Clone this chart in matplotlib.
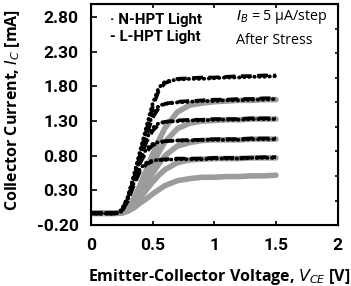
import numpy as np
import matplotlib.pyplot as plt

plt.rcParams['font.family'] = ['Roboto', 'DejaVu Sans']

# collector-emitter voltage [V]
vce = [0, 0.1, 0.2, 0.25, 0.3, 0.35, 0.4, 0.45, 0.5, 0.55, 0.6, 0.7, 0.8, 0.9, 1.0, 1.1, 1.2, 1.3, 1.4, 1.5]

# N-HPT light, after stress (mA)
n_hpt = [
    [-0.03, -0.03, -0.03, 0.0, 0.18, 0.42, 0.62, 0.70, 0.73, 0.74, 0.74, 0.75, 0.75, 0.75, 0.76, 0.76, 0.76, 0.77, 0.77, 0.77],
    [-0.03, -0.03, -0.03, 0.0, 0.19, 0.48, 0.75, 0.90, 0.97, 1.00, 1.01, 1.02, 1.02, 1.03, 1.03, 1.03, 1.03, 1.04, 1.04, 1.04],
    [-0.03, -0.03, -0.03, 0.01, 0.20, 0.50, 0.82, 1.05, 1.20, 1.27, 1.29, 1.30, 1.31, 1.31, 1.32, 1.32, 1.32, 1.33, 1.33, 1.33],
    [-0.03, -0.03, -0.03, 0.01, 0.20, 0.52, 0.85, 1.15, 1.40, 1.52, 1.55, 1.57, 1.58, 1.59, 1.59, 1.60, 1.60, 1.61, 1.61, 1.62],
    [-0.03, -0.03, -0.03, 0.02, 0.21, 0.53, 0.88, 1.22, 1.55, 1.78, 1.87, 1.90, 1.91, 1.91, 1.92, 1.93, 1.93, 1.94, 1.94, 1.95],
]
# L-HPT light, after stress (mA)
l_hpt = [
    [-0.03, -0.03, -0.03, 0.0, 0.15, 0.38, 0.58, 0.68, 0.72, 0.74, 0.75, 0.76, 0.76, 0.76, 0.77, 0.77, 0.77, 0.77, 0.78, 0.78],
    [-0.03, -0.03, -0.03, 0.0, 0.16, 0.43, 0.70, 0.86, 0.95, 0.99, 1.01, 1.02, 1.03, 1.03, 1.04, 1.04, 1.04, 1.05, 1.05, 1.05],
    [-0.03, -0.03, -0.03, 0.0, 0.17, 0.45, 0.76, 1.00, 1.16, 1.25, 1.29, 1.31, 1.32, 1.32, 1.33, 1.33, 1.33, 1.34, 1.34, 1.34],
    [-0.03, -0.03, -0.03, 0.0, 0.17, 0.47, 0.80, 1.10, 1.35, 1.49, 1.55, 1.58, 1.59, 1.60, 1.61, 1.61, 1.62, 1.62, 1.63, 1.63],
    [-0.03, -0.03, -0.03, 0.01, 0.18, 0.48, 0.83, 1.17, 1.50, 1.74, 1.85, 1.91, 1.92, 1.93, 1.93, 1.94, 1.95, 1.95, 1.96, 1.96],
]
# grey reference curves (mA)
grey = [
    [-0.03, -0.03, -0.03, -0.03, 0.0, 0.05, 0.12, 0.18, 0.25, 0.31, 0.37, 0.44, 0.47, 0.49, 0.49, 0.50, 0.50, 0.51, 0.51, 0.52],
    [-0.03, -0.03, -0.03, -0.02, 0.02, 0.10, 0.20, 0.31, 0.42, 0.52, 0.60, 0.70, 0.74, 0.75, 0.76, 0.76, 0.76, 0.77, 0.77, 0.77],
    [-0.03, -0.03, -0.03, -0.02, 0.03, 0.13, 0.26, 0.40, 0.55, 0.68, 0.80, 0.94, 0.99, 1.02, 1.03, 1.03, 1.03, 1.04, 1.04, 1.04],
    [-0.03, -0.03, -0.03, -0.02, 0.04, 0.16, 0.32, 0.50, 0.68, 0.85, 1.00, 1.19, 1.27, 1.30, 1.31, 1.32, 1.32, 1.33, 1.33, 1.33],
    [-0.03, -0.03, -0.03, -0.02, 0.05, 0.19, 0.38, 0.60, 0.82, 1.02, 1.20, 1.43, 1.53, 1.56, 1.58, 1.59, 1.60, 1.60, 1.61, 1.61],
]

yticks = [-0.20, 0.30, 0.80, 1.30, 1.80, 2.30, 2.80]
xticks = [0, 0.5, 1, 1.5, 2]

fig = plt.figure(figsize=(3.51, 2.86), dpi=100)
ax = fig.add_axes([0.259, 0.213, 0.703, 0.773])

for g in grey:
    ax.plot(vce, g, color='#9c9c9c', lw=4, solid_capstyle='round', zorder=1)
for c in l_hpt:
    ax.plot(vce, c, color='black', lw=2.6, ls=(0, (3, 1.5)), zorder=2)
for c in n_hpt:
    ax.plot(vce, c, color='black', lw=2.8, ls=(0, (0.1, 1.2)), dash_capstyle='round', zorder=3)

ax.set_xlim(0, 2)
ax.set_ylim(-0.2, 2.99)
ax.set_xticks(xticks)
ax.set_xticklabels(['0', '0.5', '1', '1.5', '2'])
ax.set_yticks(yticks)
ax.set_yticklabels(['%.2f' % t for t in yticks])
ax.tick_params(axis='both', direction='in', length=4, width=1.2, labelsize=12.5, pad=9)
ax.tick_params(axis='x', top=True, length=3)
for lab in ax.get_xticklabels() + ax.get_yticklabels():
    lab.set_fontweight('bold')
for s in ax.spines.values():
    s.set_linewidth(1.5)

# small ticks on right frame
ax2 = ax.twinx()
ax2.set_ylim(0, 9)
ax2.set_yticks(range(1, 9))
ax2.tick_params(axis='y', direction='in', length=2, width=1.2, labelright=False)

ax.set_xlabel('Emitter-Collector Voltage, $V_{CE}$ [V]', fontsize=11.5, fontweight='bold',
              family=['Open Sans', 'DejaVu Sans'])
ax.xaxis.set_label_coords(0.52, -0.19)
ax.set_ylabel('Collector Current, $I_C$ [mA]', fontsize=11.5, fontweight='bold',
              family=['Open Sans', 'DejaVu Sans'])
ax.yaxis.set_label_coords(-0.28, 0.52)

ax.text(0.078, 0.928, '\u00b7 N-HPT Light', transform=ax.transAxes, fontsize=10.8, fontweight='bold', va='center')
ax.text(0.078, 0.851, '- L-HPT Light', transform=ax.transAxes, fontsize=10.8, fontweight='bold', va='center')
ax.text(0.59, 0.94, '$I_B$ = 5 \u00b5A/step', transform=ax.transAxes, fontsize=10.3, va='center',
        family=['Open Sans', 'DejaVu Sans'])
ax.text(0.59, 0.837, 'After Stress', transform=ax.transAxes, fontsize=10.3, va='center',
        family=['Open Sans', 'DejaVu Sans'])

fig.savefig('out.png', dpi=100)
